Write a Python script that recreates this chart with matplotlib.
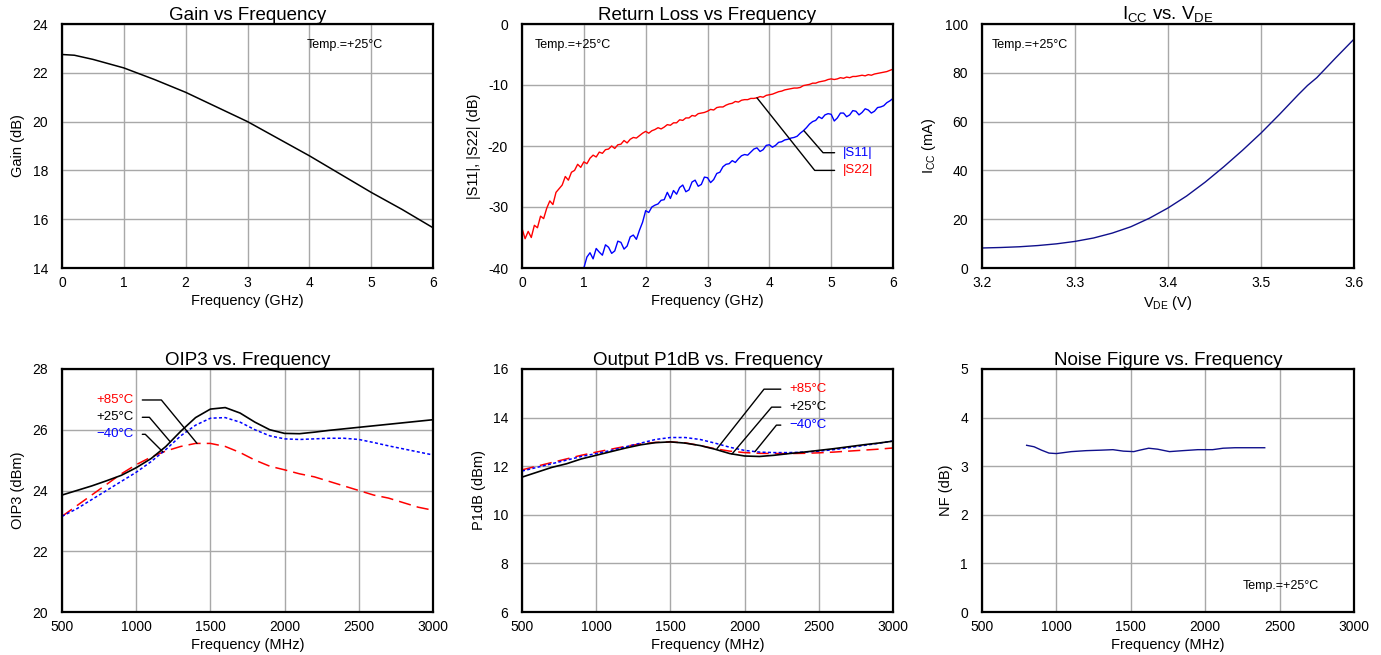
import matplotlib
matplotlib.use('Agg')
import matplotlib.pyplot as plt

plt.rcParams['font.family'] = ['Liberation Sans', 'DejaVu Sans']
plt.rcParams['axes.unicode_minus'] = False
plt.rcParams['mathtext.fontset'] = 'custom'
plt.rcParams['mathtext.rm'] = 'Liberation Sans'
plt.rcParams['mathtext.it'] = 'Liberation Sans:italic'

# ---- data ----
gain_f = [0, 0.2, 0.5, 1.0, 1.5, 2.0, 2.5, 3.0, 3.5, 4.0, 4.5, 5.0, 5.5, 6.0]
gain_db = [22.75, 22.72, 22.55, 22.2, 21.72, 21.2, 20.6, 20.0, 19.3, 18.6, 17.85, 17.1, 16.4, 15.65]

s22_f = [i / 20 for i in range(121)]
s22_db = [-33.5, -35.2, -34.0, -35.0, -33.0, -33.4, -31.5, -31.9, -30.2, -29.0,
          -29.6, -27.6, -27.0, -26.4, -25.0, -25.6, -24.3, -24.0, -23.0, -23.5,
          -22.6, -22.9, -22.0, -21.5, -21.8, -21.0, -21.2, -20.6, -20.5, -20.0,
          -20.4, -19.8, -19.7, -19.1, -19.5, -18.9, -18.6, -18.7, -18.3, -17.9,
          -17.6, -17.9, -17.5, -17.3, -17.0, -17.2, -16.9, -16.5, -16.6, -16.2,
          -16.2, -15.7, -15.8, -15.4, -15.4, -15.0, -15.1, -14.7, -14.6, -14.5,
          -14.3, -14.0, -14.1, -13.7, -13.6, -13.6, -13.3, -13.1, -13.0, -12.7,
          -12.8, -12.5, -12.4, -12.4, -12.2, -12.2, -12.1, -11.9, -12.0, -11.7,
          -11.6, -11.5, -11.3, -11.1, -11.0, -10.8, -10.7, -10.6, -10.5, -10.5,
          -10.4, -10.1, -10.0, -9.9, -9.7, -9.7, -9.5, -9.4, -9.3, -9.1,
          -9.0, -9.1, -9.0, -8.8, -8.9, -8.7, -8.8, -8.6, -8.6, -8.5,
          -8.4, -8.5, -8.3, -8.4, -8.2, -8.1, -8.0, -7.9, -7.8, -7.6, -7.4]

s11_f = [1 + i / 20 for i in range(101)]
s11_db = [-40.0, -38.2, -37.5, -38.5, -36.8, -37.4, -37.9, -36.2, -36.6, -37.6,
          -37.2, -35.6, -35.8, -36.9, -36.4, -34.9, -34.6, -35.3, -33.8, -32.5,
          -30.6, -30.9, -30.0, -29.7, -29.5, -28.9, -28.8, -27.6, -28.6, -27.3,
          -27.9, -26.8, -26.4, -27.5, -27.2, -25.9, -25.6, -26.6, -26.3, -25.1,
          -25.2, -26.0, -25.5, -24.5, -24.3, -23.4, -23.0, -22.9, -22.4, -22.7,
          -22.1, -21.6, -21.4, -21.5, -21.0, -20.5, -20.3, -20.9, -20.6, -19.9,
          -19.8, -20.2, -19.9, -19.4, -19.3, -19.0, -18.9, -18.7, -18.6, -18.4,
          -17.9, -17.5, -17.0, -16.4, -16.0, -15.8, -15.2, -15.5, -14.9, -14.7,
          -14.8, -15.9, -15.4, -14.6, -14.6, -15.2, -14.9, -14.2, -14.3, -14.9,
          -14.5, -13.9, -14.1, -14.6, -14.3, -13.7, -13.6, -13.4, -12.9, -12.6, -12.2]

vde = [3.2, 3.22, 3.24, 3.26, 3.28, 3.3, 3.32, 3.34, 3.36, 3.38, 3.4, 3.42, 3.44,
       3.46, 3.48, 3.5, 3.52, 3.54, 3.55, 3.56, 3.58, 3.6]
icc = [8.2, 8.4, 8.7, 9.2, 9.9, 10.9, 12.3, 14.3, 16.9, 20.4, 24.6, 29.5, 35.2,
       41.5, 48.2, 55.3, 63.0, 71.0, 74.8, 78.0, 86.0, 93.8]

mhz = [500, 600, 700, 800, 900, 1000, 1100, 1200, 1300, 1400, 1500, 1600, 1700,
       1800, 1900, 2000, 2100, 2200, 2300, 2400, 2500, 2600, 2700, 2800, 2900, 3000]

oip3_p25 = [23.85, 24.0, 24.15, 24.32, 24.5, 24.75, 25.05, 25.45, 25.95, 26.4, 26.68,
            26.73, 26.55, 26.25, 26.0, 25.88, 25.87, 25.92, 25.98, 26.03, 26.08,
            26.13, 26.18, 26.23, 26.28, 26.33]
oip3_m40 = [23.15, 23.4, 23.7, 24.0, 24.3, 24.6, 24.95, 25.35, 25.8, 26.15, 26.38,
            26.4, 26.25, 26.0, 25.8, 25.7, 25.68, 25.7, 25.72, 25.72, 25.68,
            25.58, 25.47, 25.37, 25.27, 25.17]
oip3_p85 = [23.15, 23.5, 23.85, 24.2, 24.55, 24.85, 25.1, 25.3, 25.45, 25.55, 25.55,
            25.45, 25.25, 25.0, 24.8, 24.68, 24.55, 24.45, 24.3, 24.15, 24.0,
            23.85, 23.75, 23.6, 23.45, 23.35]

p1db_p25 = [11.55, 11.75, 11.95, 12.1, 12.3, 12.45, 12.6, 12.75, 12.88, 12.97, 13.0,
            12.95, 12.85, 12.7, 12.52, 12.42, 12.4, 12.45, 12.52, 12.58, 12.65,
            12.72, 12.8, 12.88, 12.95, 13.03]
p1db_m40 = [11.8, 11.95, 12.1, 12.25, 12.4, 12.52, 12.65, 12.8, 12.95, 13.1, 13.18,
            13.18, 13.1, 12.95, 12.78, 12.65, 12.58, 12.56, 12.56, 12.58, 12.62,
            12.68, 12.76, 12.85, 12.94, 13.04]
p1db_p85 = [11.85, 12.0, 12.15, 12.3, 12.45, 12.58, 12.7, 12.82, 12.92, 12.98, 13.0,
            12.96, 12.85, 12.72, 12.62, 12.56, 12.53, 12.52, 12.52, 12.53, 12.55,
            12.58, 12.62, 12.66, 12.7, 12.75]

nf_f = [800, 850, 900, 950, 1000, 1050, 1100, 1200, 1300, 1380, 1450, 1520, 1560,
        1620, 1680, 1760, 1850, 1950, 2050, 2120, 2200, 2300, 2400]
nf_db = [3.43, 3.40, 3.33, 3.27, 3.26, 3.28, 3.30, 3.32, 3.33, 3.34, 3.31, 3.30, 3.33,
         3.37, 3.35, 3.30, 3.32, 3.34, 3.34, 3.37, 3.38, 3.38, 3.38]

RED = '#ff0000'
BLUE = '#0000ff'
NAVY = '#10108c'
W, H = 1381, 655

fig = plt.figure(figsize=(13.81, 6.55), dpi=100)


def make_axes(x0, y0, x1, y1):
    ax = fig.add_axes([x0 / W, 1 - y1 / H, (x1 - x0) / W, (y1 - y0) / H])
    for s in ax.spines.values():
        s.set_linewidth(1.6)
        s.set_color('black')
    ax.grid(True, color='#a8a8a8', linewidth=1)
    ax.set_axisbelow(True)
    ax.tick_params(length=0, labelsize=10)
    ax.tick_params(axis='y', pad=10)
    ax.tick_params(axis='x', pad=6)
    return ax


def finish(ax, title, xlabel, ylabel):
    ax.set_title(title, fontsize=13.5, pad=3)
    ax.set_xlabel(xlabel, fontsize=10.5, labelpad=3)
    ax.set_ylabel(ylabel, fontsize=10.5, labelpad=5)


def leader(ax, text, color, xy, xytext, angle, ha):
    ax.annotate(text, xy=xy, xytext=xytext, color=color, fontsize=9.5,
                ha=ha, va='center',
                arrowprops=dict(arrowstyle='-', color='black', lw=1,
                                shrinkA=4, shrinkB=0,
                                connectionstyle='angle,angleA=0,angleB=%g,rad=0' % angle))


# Gain
ax = make_axes(62, 24, 433, 268)
ax.plot(gain_f, gain_db, color='black', lw=1.1)
ax.set_xlim(0, 6)
ax.set_ylim(14, 24)
ax.set_yticks(range(14, 25, 2))
ax.text(0.66, 0.915, 'Temp.=+25°C', transform=ax.transAxes, fontsize=9, va='center')
finish(ax, 'Gain vs Frequency', 'Frequency (GHz)', 'Gain (dB)')

# Return loss
ax = make_axes(522, 24, 893, 268)
ax.plot(s22_f, s22_db, color=RED, lw=1)
ax.plot(s11_f, s11_db, color=BLUE, lw=1)
ax.set_xlim(0, 6)
ax.set_ylim(-40, 0)
ax.set_yticks(range(-40, 1, 10))
ax.text(0.035, 0.915, 'Temp.=+25°C', transform=ax.transAxes, fontsize=9, va='center')
leader(ax, '|S11|', BLUE, (4.56, -17.5), (5.19, -21.1), -49, 'left')
leader(ax, '|S22|', RED, (3.80, -12.1), (5.19, -24.0), -51.5, 'left')
finish(ax, 'Return Loss vs Frequency', 'Frequency (GHz)', '|S11|, |S22| (dB)')

# Icc vs Vde
ax = make_axes(982, 24, 1354, 268)
ax.plot(vde, icc, color=NAVY, lw=1)
ax.set_xlim(3.2, 3.6)
ax.set_ylim(0, 100)
ax.set_xticks([3.2, 3.3, 3.4, 3.5, 3.6])
ax.set_yticks(range(0, 101, 20))
ax.text(0.025, 0.915, 'Temp.=+25°C', transform=ax.transAxes, fontsize=9, va='center')
finish(ax, r'I$_{\mathrm{CC}}$ vs. V$_{\mathrm{DE}}$', r'V$_{\mathrm{DE}}$ (V)',
       r'I$_{\mathrm{CC}}$ (mA)')

# OIP3
ax = make_axes(62, 369, 433, 612)
ax.plot(mhz, oip3_p85, color=RED, lw=1.1, dashes=(8, 4))
ax.plot(mhz, oip3_m40, color=BLUE, lw=1.1, dashes=(2, 1.5))
ax.plot(mhz, oip3_p25, color='black', lw=1.2)
ax.set_xlim(500, 3000)
ax.set_ylim(20, 28)
ax.set_yticks(range(20, 29, 2))
leader(ax, '+85°C', RED, (1410, 25.55), (985, 26.98), -50.6, 'right')
leader(ax, '+25°C', 'black', (1230, 25.6), (985, 26.41), -49.6, 'right')
leader(ax, '\u221240°C', BLUE, (1180, 25.27), (985, 25.85), -45, 'right')
finish(ax, 'OIP3 vs. Frequency', 'Frequency (MHz)', 'OIP3 (dBm)')

# P1dB
ax = make_axes(522, 369, 893, 612)
ax.plot(mhz, p1db_p85, color=RED, lw=1.1, dashes=(8, 4))
ax.plot(mhz, p1db_m40, color=BLUE, lw=1.1, dashes=(2, 1.5))
ax.plot(mhz, p1db_p25, color='black', lw=1.2)
ax.set_xlim(500, 3000)
ax.set_ylim(6, 16)
ax.set_yticks(range(6, 17, 2))
leader(ax, '+85°C', RED, (1814, 12.72), (2300, 15.17), 51.7, 'left')
leader(ax, '+25°C', 'black', (1915, 12.5), (2300, 14.43), 49.8, 'left')
leader(ax, '\u221240°C', BLUE, (2070, 12.6), (2300, 13.69), 51, 'left')
finish(ax, 'Output P1dB vs. Frequency', 'Frequency (MHz)', 'P1dB (dBm)')

# Noise figure
ax = make_axes(982, 369, 1354, 612)
ax.plot(nf_f, nf_db, color=NAVY, lw=1)
ax.set_xlim(500, 3000)
ax.set_ylim(0, 5)
ax.set_yticks(range(0, 6))
ax.text(0.70, 0.105, 'Temp.=+25°C', transform=ax.transAxes, fontsize=9, va='center')
finish(ax, 'Noise Figure vs. Frequency', 'Frequency (MHz)', 'NF (dB)')

fig.savefig('out.png', dpi=100)
